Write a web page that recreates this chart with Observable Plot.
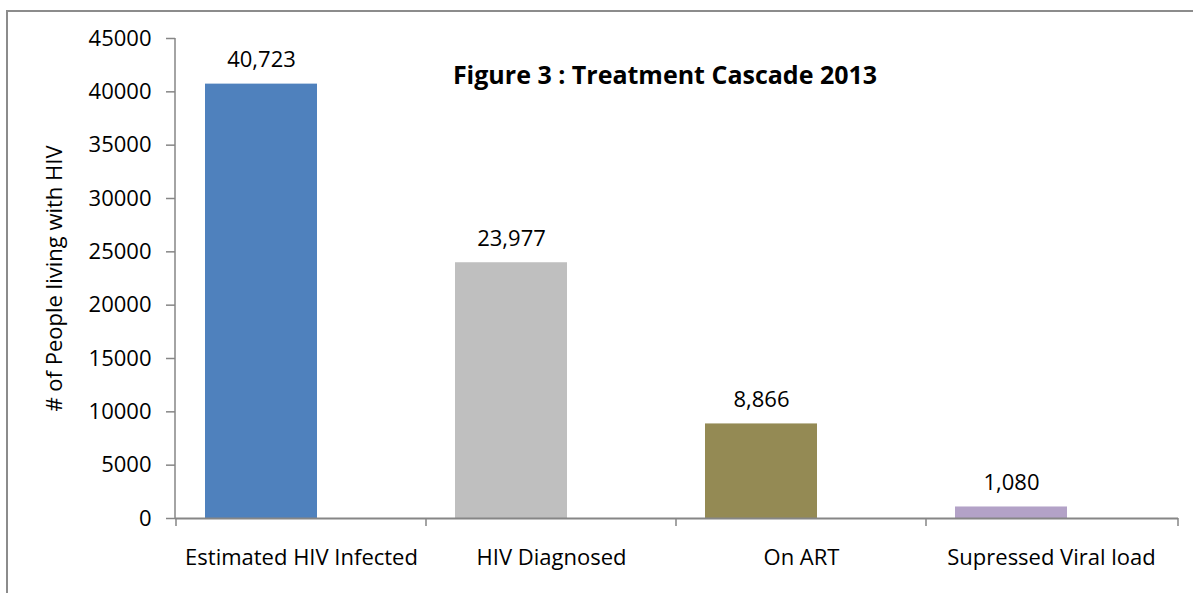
<!DOCTYPE html>
<html>
<head>
<meta charset="utf-8">
<script src="https://cdn.jsdelivr.net/npm/d3@7"></script>
<script src="https://cdn.jsdelivr.net/npm/@observablehq/plot@0.6"></script>
<style>
  html, body { margin: 0; padding: 0; background: #fff; }
  #wrap { position: relative; width: 1193px; height: 593px; overflow: hidden; }
  #frame { position: absolute; left: 6px; top: 10px; width: 1300px; height: 700px;
           border-left: 2px solid #8c8c8c; border-top: 2px solid #8c8c8c; pointer-events: none; }
  #chart { position: absolute; left: 0; top: 0; }
</style>
</head>
<body>
<div id="wrap"><div id="chart"></div><div id="frame"></div></div>
<script>
const categories = ["Estimated HIV Infected", "HIV Diagnosed", "On ART", "Supressed Viral load"];
const values = [40723, 23977, 8866, 1080];
const colors = ["#4F81BD", "#BFBFBF", "#948A54", "#B3A2C7"];
const yTicks = [0, 5000, 10000, 15000, 20000, 25000, 30000, 35000, 40000, 45000];
const title = "Figure 3 : Treatment Cascade 2013";
const yLabel = "# of People living with HIV";

const data = categories.map((c, i) => ({category: c, value: values[i], color: colors[i]}));
const font = "'Open Sans', 'Noto Sans', sans-serif";
const axisColor = "#868686";
const barShift = -40; // bars sit left of the category centre, as in the original

const plot = Plot.plot({
  width: 1193,
  height: 593,
  marginLeft: 175,
  marginRight: 15,
  marginTop: 38,
  marginBottom: 75,
  style: {fontFamily: font, fontSize: "22px", color: "#000", background: "transparent", overflow: "visible"},
  x: {domain: categories, paddingInner: 0.55, paddingOuter: 0.275},
  y: {domain: [0, 45000]},
  marks: [
    Plot.barY(data, {x: "category", y: "value", fill: "color", dx: barShift}),
    Plot.ruleY([0], {stroke: axisColor, strokeWidth: 2}),
    Plot.axisY({ticks: yTicks, tickSize: 9, tickPadding: 15, stroke: axisColor, strokeWidth: 1.5,
                tickFormat: d => String(d), fill: "#000", fontSize: 22,
                label: null}),
    Plot.text([yLabel], {frameAnchor: "left", textAnchor: "middle", rotate: -90, dx: -121, fontSize: 22, fill: "#000"}),
    Plot.axisX({tickSize: 0, tickPadding: 31, fill: "#000", fontSize: 22, label: null}),
    Plot.text(data, {x: "category", y: "value", text: d => d3.format(",")(d.value),
                     dx: barShift, dy: -17, lineAnchor: "bottom", fontSize: 22, fill: "#000"}),
    Plot.text([title], {frameAnchor: "top", dx: -12, dy: 37, lineAnchor: "middle",
                        fontWeight: "bold", fontSize: 25, fill: "#000"})
  ]
});

// axis line and category boundary ticks drawn from the plot's own scales
const xs = plot.scale("x");
const ys = plot.scale("y");
const svg = d3.select(plot);
const [x0, x1] = xs.range;
const [yb, yt] = ys.range;
const g = svg.append("g").attr("stroke", axisColor).attr("stroke-width", 1.5);
g.append("line").attr("x1", x0).attr("x2", x0).attr("y1", yt).attr("y2", yb + 1);
const bounds = categories.map(c => xs.apply(c) - (xs.step - xs.bandwidth) / 2).concat([x1]);
bounds.forEach(b => g.append("line").attr("x1", b).attr("x2", b).attr("y1", yb).attr("y2", yb + 8));

document.getElementById("chart").appendChild(plot);
</script>
</body>
</html>
